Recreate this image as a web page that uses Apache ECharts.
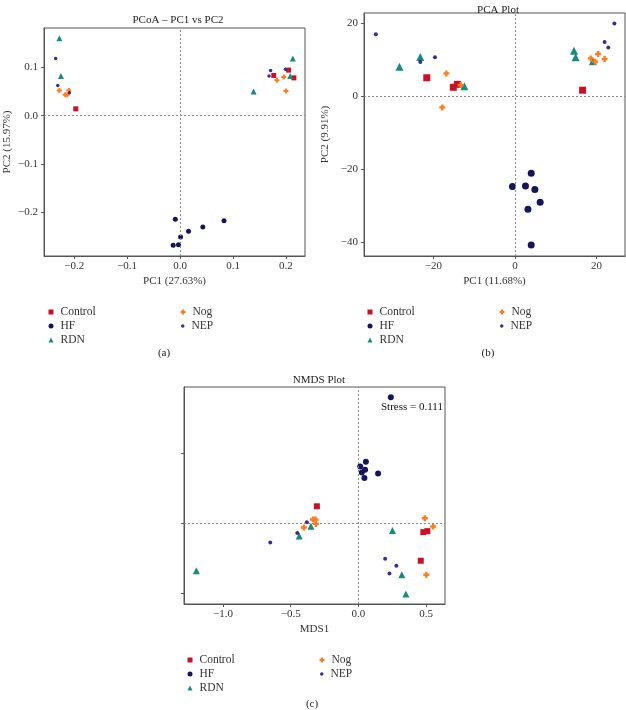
<!DOCTYPE html>
<html>
<head>
<meta charset="utf-8">
<script src="https://cdn.jsdelivr.net/npm/echarts@6/dist/echarts.min.js"></script>
<style>
  html, body { margin: 0; padding: 0; background: #fff; }
  #chart { width: 626px; height: 710px; }
</style>
</head>
<body>
<div id="chart"></div>
<script>
(function () {
  /* ========== data ========== */
  const groups = ["Control", "HF", "RDN", "Nog", "NEP"];

  // (a) PCoA
  const pcoaControl = [[-0.197, 0.014], [0.177, 0.083], [0.205, 0.094], [0.215, 0.078]];
  const pcoaHF = [[-0.009, -0.214], [0.016, -0.239], [0.043, -0.230], [0.083, -0.217], [0.001, -0.251], [-0.003, -0.267], [-0.013, -0.268]];
  const pcoaRDN = [[-0.228, 0.160], [-0.225, 0.082], [0.139, 0.050], [0.213, 0.118], [0.208, 0.082]];
  const pcoaNog = [[-0.228, 0.052], [-0.217, 0.043], [-0.213, 0.043], [-0.210, 0.052], [0.183, 0.073], [0.196, 0.080], [0.200, 0.051]];
  const pcoaNEP = [[-0.235, 0.118], [-0.231, 0.062], [-0.209, 0.047], [0.168, 0.082], [0.171, 0.093], [0.199, 0.096]];
  const pcoaXTicks = [-0.2, -0.1, 0, 0.1, 0.2];
  const pcoaYTicks = [-0.2, -0.1, 0, 0.1];

  // (b) PCA
  const pcaControl = [[-21.6, 5.0], [-15.1, 2.4], [-14.1, 3.2], [16.6, 1.6]];
  const pcaHF = [[4.0, -21.1], [-0.6, -24.7], [2.6, -24.6], [4.9, -25.5], [6.2, -29.0], [3.2, -30.9], [4.0, -40.7]];
  const pcaRDN = [[-28.3, 8.0], [-23.2, 10.7], [-12.4, 2.7], [14.5, 12.4], [14.9, 10.6], [19.1, 9.5]];
  const pcaNog = [[-16.8, 6.2], [-17.8, -3.1], [-13.3, 3.0], [18.6, 10.3], [19.7, 9.4], [20.4, 11.5], [22.0, 10.1]];
  const pcaNEP = [[-34.1, 16.9], [-23.2, 9.3], [-19.6, 10.6], [24.4, 19.8], [22.0, 14.8], [22.9, 13.3]];
  const pcaXTicks = [-20, 0, 20];
  const pcaYTicks = [-40, -20, 0, 20];

  // (c) NMDS
  const nmdsControl = [[-0.307, 0.121], [0.479, -0.064], [0.509, -0.057], [0.460, -0.269]];
  const nmdsHF = [[0.239, 0.902], [0.055, 0.440], [0.013, 0.407], [0.049, 0.383], [0.025, 0.364], [0.145, 0.357], [0.044, 0.324]];
  const nmdsRDN = [[-0.351, -0.021], [-0.437, -0.091], [-1.197, -0.341], [0.251, -0.053], [0.320, -0.369], [0.350, -0.507]];
  const nmdsNog = [[-0.336, 0.026], [-0.317, 0.026], [-0.314, -0.005], [-0.403, -0.031], [0.490, 0.036], [0.551, -0.024], [0.501, -0.369]];
  const nmdsNEP = [[-0.381, 0.007], [-0.452, -0.071], [-0.651, -0.139], [0.197, -0.255], [0.280, -0.305], [0.229, -0.360]];
  const nmdsXTicks = [-1.0, -0.5, 0, 0.5];
  const nmdsYTicks = [-0.5, 0, 0.5];
  const stressText = "Stress = 0.111";

  /* ========== styles ========== */
  const SERIF = "Liberation Serif";
  const colors = { Control: "#cc0e26", HF: "#15155a", RDN: "#178a7a", Nog: "#ff7b1c", NEP: "#3b2d8a" };
  const plus = "path://M3,0h4v3h3v4h-3v3h-4v-3h-3v-4h3z";
  const symbols = { Control: "rect", HF: "circle", RDN: "triangle", Nog: plus, NEP: "circle" };
  const frame = "#555";

  const fmt = (d) => (v) => (v < 0 ? "\u2212" : "") + Math.abs(v).toFixed(d);

  function xAxis(grid, range, ticks, name, digits) {
    return {
      type: "value", gridIndex: grid, min: range[0], max: range[1],
      name: name, nameLocation: "middle", nameGap: 20,
      nameTextStyle: { fontFamily: SERIF, fontSize: 11, color: "#333" },
      splitLine: { show: false },
      axisLine: { show: true, onZero: false, lineStyle: { color: frame } },
      axisTick: { show: true, length: 3, customValues: ticks, lineStyle: { color: frame } },
      axisLabel: { customValues: ticks, margin: 5, fontFamily: SERIF, fontSize: 11, color: "#333", formatter: fmt(digits) },
    };
  }

  function yAxis(grid, range, ticks, name, gap, digits, showLabel) {
    return {
      type: "value", gridIndex: grid, min: range[0], max: range[1],
      name: name, nameLocation: "middle", nameGap: gap,
      nameTextStyle: { fontFamily: SERIF, fontSize: 11, color: "#333" },
      splitLine: { show: false },
      axisLine: { show: true, onZero: false, lineStyle: { color: frame } },
      axisTick: { show: true, length: 3, customValues: ticks, lineStyle: { color: frame } },
      axisLabel: { show: showLabel, customValues: ticks, margin: 6, fontFamily: SERIF, fontSize: 11, color: "#333", formatter: fmt(digits) },
    };
  }

  function scatter(grid, name, data, size) {
    return {
      type: "scatter", name: name, xAxisIndex: grid, yAxisIndex: grid,
      data: data, symbol: symbols[name], symbolSize: size,
      itemStyle: { color: colors[name], opacity: 1 },
      emphasis: { disabled: true }, silent: true,
    };
  }

  function zeroLines(grid) {
    return {
      type: "scatter", name: "zero" + grid, xAxisIndex: grid, yAxisIndex: grid, data: [], silent: true,
      markLine: {
        silent: true, symbol: "none", label: { show: false },
        lineStyle: { type: [2, 2], color: "#888", width: 1 },
        data: [{ xAxis: 0 }, { yAxis: 0 }],
      },
    };
  }

  function legend(left, top, names, size) {
    return {
      orient: "vertical", left: left, top: top, itemWidth: size, itemHeight: size, itemGap: 0,
      selectedMode: false, data: names,
      textStyle: { fontFamily: SERIF, fontSize: 11.5, color: "#333", lineHeight: 14, padding: [0, 0, 0, 2] },
    };
  }

  function title(text, cx, top) {
    return {
      text: text, left: cx, top: top, textAlign: "center",
      textStyle: { fontFamily: SERIF, fontSize: 11, fontWeight: "normal", color: "#222" },
    };
  }

  function label(text, x, y, size) {
    return {
      type: "text", x: x, y: y,
      style: { text: text, fontFamily: SERIF, fontSize: size || 11, fill: "#222", textAlign: "center", textVerticalAlign: "middle" },
    };
  }

  /* ========== option ========== */
  const chart = echarts.init(document.getElementById("chart"));

  const sizesA = { Control: 5, HF: 5, RDN: 6, Nog: 5, NEP: 3.5 };
  const sizesB = { Control: 7, HF: 7, RDN: 8, Nog: 6, NEP: 4 };
  const sizesC = { Control: 6, HF: 6, RDN: 7, Nog: 6, NEP: 4 };

  const dataA = { Control: pcoaControl, HF: pcoaHF, RDN: pcoaRDN, Nog: pcoaNog, NEP: pcoaNEP };
  const dataB = { Control: pcaControl, HF: pcaHF, RDN: pcaRDN, Nog: pcaNog, NEP: pcaNEP };
  const dataC = { Control: nmdsControl, HF: nmdsHF, RDN: nmdsRDN, Nog: nmdsNog, NEP: nmdsNEP };

  const series = [zeroLines(0), zeroLines(1), zeroLines(2)];
  groups.forEach((g) => {
    series.push(scatter(0, g, dataA[g], sizesA[g]));
    series.push(scatter(1, g, dataB[g], sizesB[g]));
    series.push(scatter(2, g, dataC[g], sizesC[g]));
  });

  const gridStyle = { show: true, borderColor: frame, borderWidth: 1, containLabel: false };

  chart.setOption({
    animation: false,
    backgroundColor: "#fff",
    title: [
      title("PCoA \u2013 PC1 vs PC2", 173, 10),
      title("PCA Plot", 493, 0),
      title("NMDS Plot", 314, 370),
    ],
    grid: [
      Object.assign({ left: 44, top: 28, width: 261, height: 228 }, gridStyle),
      Object.assign({ left: 364, top: 13, width: 261, height: 243 }, gridStyle),
      Object.assign({ left: 184, top: 387, width: 261, height: 217 }, gridStyle),
    ],
    xAxis: [
      xAxis(0, [-0.257, 0.236], pcoaXTicks, "PC1 (27.63%)", 1),
      xAxis(1, [-37, 27], pcaXTicks, "PC1 (11.68%)", 0),
      xAxis(2, [-1.288, 0.639], nmdsXTicks, "MDS1", 1),
    ],
    yAxis: [
      yAxis(0, [-0.29, 0.181], pcoaYTicks, "PC2 (15.97%)", 31, 1, true),
      yAxis(1, [-43.7, 22.7], pcaYTicks, "PC2 (9.91%)", 33, 0, true),
      yAxis(2, [-0.579, 0.976], nmdsYTicks, "", 0, 1, false),
    ],
    legend: [
      legend(43.5, 300, ["Control", "HF", "RDN"], 5),
      legend(175.5, 300, ["Nog"], 5),
      legend(176, 314, ["NEP"], 3.5),
      legend(362.5, 300, ["Control", "HF", "RDN"], 5),
      legend(494.5, 300, ["Nog"], 5),
      legend(495, 314, ["NEP"], 3.5),
      legend(182.5, 648, ["Control", "HF", "RDN"], 5),
      legend(314.5, 648, ["Nog"], 5),
      legend(315, 662, ["NEP"], 3.5),
    ],
    graphic: [
      label("(a)", 164, 353),
      label("(b)", 488, 353),
      label("(c)", 312, 704),
      {
        type: "text", x: 381, y: 407,
        style: { text: stressText, fontFamily: SERIF, fontSize: 11, fill: "#111", textVerticalAlign: "middle" },
      },
    ],
    series: series,
  });
})();
</script>
</body>
</html>
